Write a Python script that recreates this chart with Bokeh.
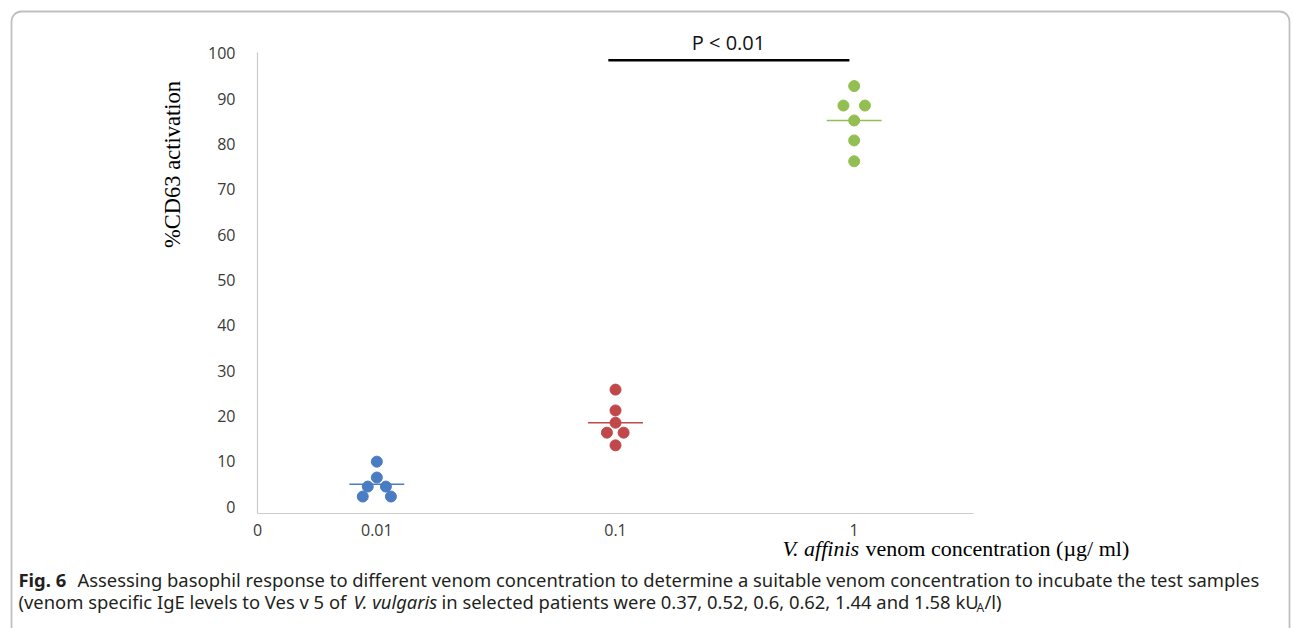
from bokeh.plotting import figure
from bokeh.models import Range1d, FixedTicker, Label, BoxAnnotation, ColumnDataSource, LinearAxis
from bokeh.embed import file_html
from bokeh.resources import INLINE

# ---------------- data ----------------
categories = ["0.01", "0.1", "1"]
group_colors = ["#4a7cc3", "#c0474a", "#93bf52"]
blue_values = [9.9, 6.4, 4.4, 4.4, 2.2, 2.2]
red_values = [25.8, 21.2, 18.5, 16.3, 16.3, 13.5]
green_values = [92.8, 88.5, 88.5, 85.2, 80.8, 76.2]
medians = [4.9, 18.5, 85.2]
# horizontal spread of coinciding points (beeswarm offsets, in category units)
blue_spread = [0, 0, -0.038, 0.038, -0.059, 0.059]
red_spread = [0, 0, 0, -0.036, 0.034, 0]
green_spread = [0, -0.045, 0.045, 0, 0, 0]
y_ticks = [0, 10, 20, 30, 40, 50, 60, 70, 80, 90, 100]

# ---------------- geometry ----------------
W, H = 1293, 628
AX_X0, AX_X1 = 0.0, 3.0          # x axis extent
AX_Y0, AX_Y1 = -1.55, 100.2      # y axis extent
ORIG_X, ORIG_Y = 257, 506        # pixel of x=0 / y=0
SX, SY = 238.67, 4.5306          # pixels per unit

def dx(px):
    return (px - ORIG_X) / SX
def dy(py):
    return (ORIG_Y - py) / SY

p = figure(width=W, height=H, output_backend="svg", toolbar_location=None,
           x_range=Range1d(dx(0), dx(W)), y_range=Range1d(dy(H), dy(0)),
           x_axis_location=None, y_axis_location=None, min_border=0)
p.background_fill_color = "white"
p.border_fill_color = "white"
p.outline_line_color = None
p.xgrid.visible = False
p.ygrid.visible = False

# axes (positioned with fixed_location inside the full-canvas frame)
cat_pos = [i + 0.5 for i in range(len(categories))]
xaxis = LinearAxis(fixed_location=AX_Y0, bounds=(AX_X0, AX_X1),
                   ticker=FixedTicker(ticks=[0] + cat_pos),
                   major_label_overrides={0: "0", **{c: l for c, l in zip(cat_pos, categories)}})
yaxis = LinearAxis(fixed_location=AX_X0, bounds=(AX_Y0, AX_Y1),
                   ticker=FixedTicker(ticks=y_ticks))
for ax in (xaxis, yaxis):
    ax.axis_line_color = "#cccccc"
    ax.axis_line_width = 1.2
    ax.major_tick_line_color = None
    ax.minor_tick_line_color = None
    ax.major_label_text_font = "Open Sans"
    ax.major_label_text_font_size = "16px"
    ax.major_label_text_color = "#3a3a3a"
xaxis.major_label_standoff = 4
yaxis.major_label_standoff = 16
p.add_layout(xaxis, "below")
p.add_layout(yaxis, "left")

# points and median lines
groups = [(blue_values, blue_spread), (red_values, red_spread), (green_values, green_spread)]
for (vals, spread), cx, col, med in zip(groups, cat_pos, group_colors, medians):
    src = ColumnDataSource(dict(x=[cx + s for s in spread], y=vals))
    p.scatter("x", "y", source=src, size=11, fill_color=col, line_color=col)
    p.segment(x0=[cx - 0.115], y0=[med], x1=[cx + 0.115], y1=[med],
              line_color=col, line_width=1.6)

# significance bar between 0.1 and 1
p.segment(x0=[cat_pos[1] - 0.03], y0=[98.5], x1=[cat_pos[2] - 0.02], y1=[98.5],
          line_color="black", line_width=2.5)
p.add_layout(Label(x=dx(728), y=dy(42), text="P < 0.01",
                   text_font="Open Sans", text_font_size="20px", text_color="#111111",
                   text_align="center", text_baseline="middle"))

# axis titles
p.add_layout(Label(x=dx(172), y=dy(164), text="%CD63 activation", angle=90, angle_units="deg",
                   text_font="Liberation Serif", text_font_size="22.5px", text_color="black",
                   text_align="center", text_baseline="middle"))
p.add_layout(Label(x=dx(782), y=dy(548), text="V. affinis",
                   text_font="Liberation Serif", text_font_style="italic",
                   text_font_size="22px", text_color="black",
                   text_align="left", text_baseline="middle"))
p.add_layout(Label(x=dx(865), y=dy(548), text="venom concentration (µg/ ml)",
                   text_font="Liberation Serif", text_font_size="22px", text_color="black",
                   text_align="left", text_baseline="middle"))

# caption
cap = dict(text_font="Noto Sans", text_font_size="18.4px", text_color="#231f20",
           text_align="left", text_baseline="middle")
L1, L2 = 579, 601
p.add_layout(Label(x=dx(18), y=dy(L1), text="Fig. 6", text_font_style="bold", **cap))
p.add_layout(Label(x=dx(77), y=dy(L1),
                   text="Assessing basophil response to different venom concentration to determine a suitable venom concentration to incubate the test samples",
                   **cap))
p.add_layout(Label(x=dx(18), y=dy(L2),
                   text="(venom specific IgE levels to Ves v 5 of", **cap))
p.add_layout(Label(x=dx(353), y=dy(L2), text="V. vulgaris", text_font_style="italic", **cap))
p.add_layout(Label(x=dx(441), y=dy(L2),
                   text="in selected patients were 0.37, 0.52, 0.6, 0.62, 1.44 and 1.58 kU", **cap))
p.add_layout(Label(x=dx(976), y=dy(L2 + 6), text="A", text_font="Noto Sans", text_font_size="12px",
                   text_color="#231f20", text_align="left", text_baseline="middle"))
p.add_layout(Label(x=dx(984), y=dy(L2), text="/l)", **cap))

# rounded frame around the figure
p.add_layout(BoxAnnotation(left=dx(11), right=dx(1289), top=dy(11), bottom=dy(700),
                           fill_color=None, line_color="#2e2e2e", line_width=1.8,
                           border_radius=10))

open("out.html", "w").write(file_html(p, INLINE))
